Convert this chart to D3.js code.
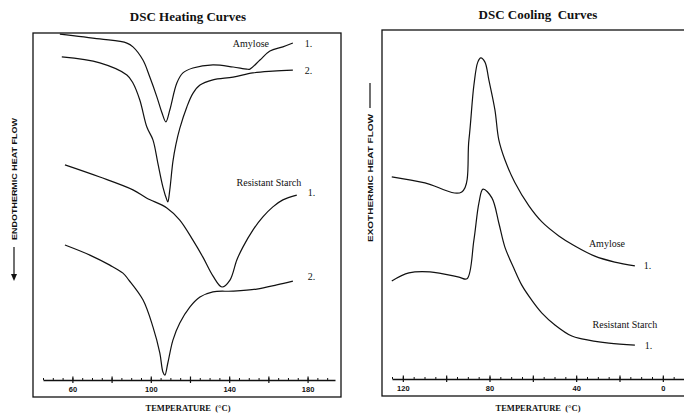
<!DOCTYPE html>
<html><head><meta charset="utf-8">
<script src="https://cdn.jsdelivr.net/npm/d3@7"></script>
<style>body{margin:0;background:#fff}svg{display:block}</style>
</head><body>
<svg id="c" width="684" height="418"></svg>
<script>
// ---------- DATA ----------
const heatTickLabels = [60, 100, 140, 180];
const coolTickLabels = [120, 80, 40, 0];

// Heating curves: [temperature °C, relative heat flow]
const heatAmylose1 = [[53.6,99.7],[74,98.3],[87.8,97.1],[90.9,96.0],[96,92.2],[99.5,87.3],[103.1,81.6],[105.7,77.0],[107.7,74.4],[109.7,77.8],[113.3,85.6],[116.4,88.5],[121.5,89.9],[131.7,90.8],[142,90.2],[149,89.6],[150.6,89.6],[155.7,92.2],[160.8,94.8],[167.4,96.0],[172.5,97.1]];
const heatAmylose2 = [[54.6,93.1],[74,91.4],[87.8,87.9],[90.9,85.6],[94.4,80.7],[98,72.9],[101.1,69.2],[103.6,62.5],[106.2,55.6],[108.2,51.9],[108.7,51.3],[109.7,54.8],[111.3,63.0],[112.8,67.8],[114.8,72.5],[118.4,78.7],[121.5,82.6],[125.1,85.0],[131.7,86.5],[142,87.3],[152.1,88.5],[162.3,89.0],[172.5,89.3]];
const heatStarch1 = [[56.2,62.0],[74,58.5],[90.9,54.8],[98,52.4],[108.2,49.6],[114.8,46.1],[121.5,40.3],[126.6,35.4],[131.7,30.0],[136.3,26.8],[140.4,28.8],[143.9,34.6],[147,38.3],[152.1,43.2],[157.2,47.0],[162.3,49.9],[167.4,51.9],[174.5,53.3]];
const heatStarch2 = [[56.2,38.9],[68.9,36.0],[79.1,33.1],[85.8,30.8],[88.8,28.8],[96,23.1],[101.1,15.3],[104.6,7.8],[106.2,2.3],[107.2,1.4],[108.7,4.9],[111.3,11.5],[114.8,16.4],[119.9,21.0],[125.1,23.9],[131.7,25.4],[142,25.6],[154.1,26.2],[164.3,27.4],[172.5,28.5]];

// Cooling curves
const coolAmylose1 = [[125.1,57.9],[109.8,56.2],[92.8,53.6],[89.5,68.5],[87.2,84.2],[85.4,90.8],[84.0,92.0],[82.1,90.8],[80.3,85.7],[77.5,77.1],[75.7,68.5],[72.9,62.8],[68.3,56.3],[61.8,49.6],[55.8,45.0],[48.0,41.0],[40.6,38.1],[31.4,35.2],[22.2,33.5],[12.9,32.4]];
const coolStarch1 = [[125.1,28.1],[117.2,30.4],[107.5,30.7],[94.1,29.2],[90.4,28.7],[87.2,39.8],[84.9,50.4],[83.0,54.4],[78.9,51.9],[75.7,44.7],[72.9,37.8],[68.8,31.8],[65.1,26.9],[60.5,22.6],[55.8,18.9],[49.8,15.5],[42.0,12.3],[37.4,11.5],[24.9,10.3],[12.9,9.7]];

// Curve annotations [text, temperature, value, anchor]
const heatLabels = [["Amylose",151.1,97.1,"middle"],["1.",178.6,97.1,"start"],["2.",178.6,89.3,"start"],["Resistant Starch",160.3,56.8,"middle"],["1.",180.1,53.9,"start"],["2.",180.1,29.7,"start"]];
const coolLabels = [["Amylose",25.8,38.9,"middle"],["1.",8.8,32.4,"start"],["Resistant Starch",17.5,15.5,"middle"],["1.",8.3,9.5,"start"]];

// ---------- DRAW ----------
const svg = d3.select("#c");
const serif = "'Liberation Serif','Times New Roman',serif";
const sans = "'Liberation Sans',Arial,sans-serif";

function panel(o){
  const g = svg.append("g");
  g.append("rect").attr("x",o.fx0).attr("y",o.fy0).attr("width",o.fx1-o.fx0).attr("height",o.fy1-o.fy0)
    .attr("fill","none").attr("stroke","#111").attr("stroke-width",1.3);
  const x = d3.scaleLinear().domain(o.xd).range([o.ax0,o.ax1]);
  const y = d3.scaleLinear().domain([0,100]).range([o.ay,o.fy0]);
  const minor = d3.range(o.minorStart, o.minorEnd + (o.minorStep>0?0.1:-0.1), o.minorStep);
  g.append("g").attr("transform",`translate(0,${o.ay})`)
    .call(d3.axisTop(x).tickValues(minor).tickSize(2).tickSizeOuter(0).tickFormat(""))
    .call(s=>s.select(".domain").attr("stroke","#111").attr("stroke-width",1.3))
    .call(s=>s.selectAll(".tick line").attr("stroke","#111").attr("stroke-width",1));
  const major = minor.filter(v=>v%20===0);
  g.append("g").attr("transform",`translate(0,${o.ay})`)
    .call(d3.axisBottom(x).tickValues(major).tickSize(3).tickFormat(""))
    .call(s=>s.select(".domain").remove())
    .call(s=>s.selectAll(".tick line").attr("stroke","#111").attr("stroke-width",1.2));
  g.append("g").attr("transform",`translate(0,${o.ay})`)
    .call(d3.axisTop(x).tickValues(major).tickSize(3.5).tickFormat(""))
    .call(s=>s.select(".domain").remove())
    .call(s=>s.selectAll(".tick line").attr("stroke","#111").attr("stroke-width",1.2));
  g.append("g").attr("transform",`translate(0,${o.ay})`)
    .call(d3.axisBottom(x).tickValues(o.labels).tickSize(0).tickPadding(7).tickFormat(d3.format("d")))
    .call(s=>s.select(".domain").remove())
    .call(s=>s.selectAll(".tick text").attr("font-family",sans).attr("font-weight","bold").attr("font-size","7.5px").attr("fill","#111"));
  const line = d3.line().x(d=>x(d[0])).y(d=>y(d[1])).curve(d3.curveCatmullRom.alpha(0.5));
  o.series.forEach(s=>{
    g.append("path").attr("d",line(s)).attr("fill","none").attr("stroke","#111").attr("stroke-width",1.2);
  });
  o.annot.forEach(a=>{
    g.append("text").attr("x",x(a[1])).attr("y",y(a[2])).attr("dy","0.35em").attr("text-anchor",a[3])
      .attr("font-family",serif).attr("font-size","10px").attr("fill","#111").text(a[0]);
  });
  g.append("text").attr("x",o.tx).attr("y",o.ty).attr("text-anchor","middle").attr("font-family",serif)
    .attr("font-weight","bold").attr("font-size","13px").attr("fill","#111").attr("xml:space","preserve").text(o.title);
  g.append("text").attr("x",o.tx).attr("y",411).attr("text-anchor","middle").attr("font-family",serif)
    .attr("font-weight","bold").attr("font-size","8.5px").attr("fill","#111").attr("xml:space","preserve").text("TEMPERATURE  (°C)");
  return g;
}

panel({fx0:33,fy0:33,fx1:341,fy1:397,ay:380,xd:[45,194],ax0:43,ax1:335,
  minorStart:45,minorEnd:190,minorStep:5,labels:heatTickLabels,
  series:[heatAmylose1,heatAmylose2,heatStarch1,heatStarch2],annot:heatLabels,
  title:"DSC Heating Curves",tx:188,ty:21});
panel({fx0:382,fy0:30,fx1:700,fy1:396,ay:379,xd:[125,-10],ax0:392,ax1:684.5,
  minorStart:125,minorEnd:-10,minorStep:-5,labels:coolTickLabels,
  series:[coolAmylose1,coolStarch1],annot:coolLabels,
  title:"DSC Cooling  Curves",tx:538,ty:19});

svg.append("text").attr("transform","translate(17,179) rotate(-90)").attr("text-anchor","middle")
  .attr("font-family",sans).attr("font-weight","bold").attr("font-size","8px").attr("fill","#111")
  .attr("textLength",122).attr("lengthAdjust","spacingAndGlyphs").text("ENDOTHERMIC HEAT FLOW");
svg.append("line").attr("x1",14).attr("x2",14).attr("y1",247).attr("y2",278).attr("stroke","#111").attr("stroke-width",1.2);
svg.append("path").attr("d","M11,274 L14,281 L17,274 Z").attr("fill","#111");

svg.append("text").attr("transform","translate(373,178) rotate(-90)").attr("text-anchor","middle")
  .attr("font-family",sans).attr("font-weight","bold").attr("font-size","8px").attr("fill","#111")
  .attr("textLength",128).attr("lengthAdjust","spacingAndGlyphs").text("EXOTHERMIC HEAT FLOW");
svg.append("line").attr("x1",370).attr("x2",370).attr("y1",83).attr("y2",108).attr("stroke","#111").attr("stroke-width",1.2);
</script>
</body></html>
